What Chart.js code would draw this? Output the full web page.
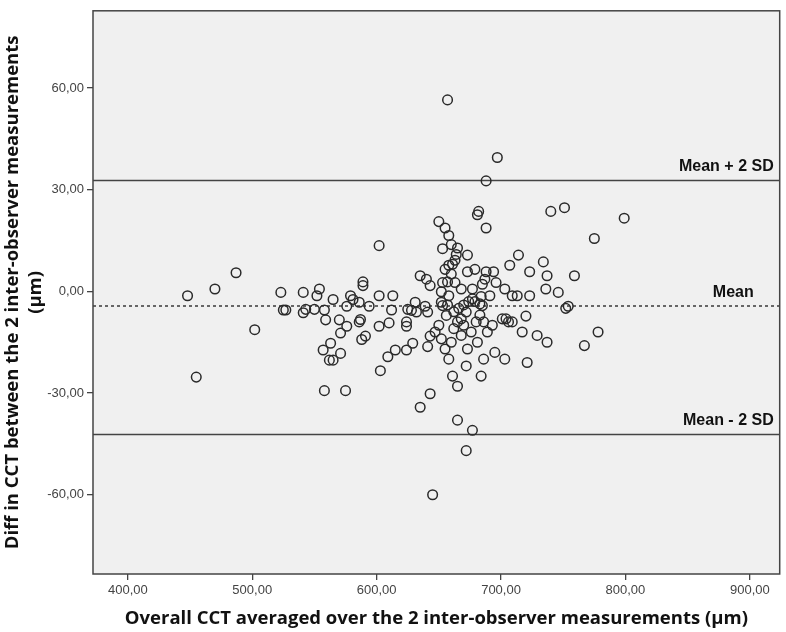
<!DOCTYPE html>
<html lang="en">
<head>
  <meta charset="UTF-8" />
  <title>Bland-Altman CCT</title>
  <style>
    * {
      box-sizing: border-box;
      margin: 0;
      padding: 0;
    }

    body {
      background-color: #fff;
      width: 786px;
      height: 632px;
      overflow: hidden;
    }
  </style>
</head>
<body>
  <canvas id="baChart" width="786" height="632"></canvas>

  <script src="https://cdn.jsdelivr.net/npm/chart.js"></script>
  <script>
    // averaged CCT of the two observers (x) and their difference (y)
    const avgCct = [
      448, 470, 487, 502, 455, 523, 525, 527, 541, 541, 543, 550, 552, 554, 558, 559,
      565, 563, 557, 562, 565, 571, 570, 571, 576, 576, 579, 581, 586, 589, 589, 594,
      586, 587, 588, 591, 558, 575, 602, 602, 613, 612, 602, 610, 615, 609, 603, 624,
      624, 624, 629, 635, 641, 643, 643, 631, 625, 628, 632, 641, 639, 635, 640, 643,
      688, 682, 681, 688, 740, 751, 799, 775, 650, 655, 658, 660, 665, 653, 673, 664,
      663, 661, 658, 714, 707, 734, 723, 737, 759, 655, 660, 673, 679, 688, 694, 687,
      685, 696, 653, 657, 663, 668, 677, 658, 652, 677, 679, 683, 685, 684, 691, 703,
      709, 713, 723, 736, 746, 754, 653, 652, 656, 668, 672, 701, 704, 720,
      657, 697,
      645, 672, 677, 665, 661, 665, 672, 684, 686, 703, 721, 695, 737, 729, 717, 778,
      767, 752, 706, 709, 693, 686, 683, 689, 681, 662, 665, 668, 670, 673, 676, 680,
      650, 652, 655, 647, 660, 658, 657, 666, 670, 674, 662
    ];
    const diffCct = [
      -1.3, 0.7, 5.5, -11.3, -25.3, -0.3, -5.5, -5.5, -0.3, -6.3, -5.3, -5.3, -1.3, 0.7, -5.5, -8.4,
      -2.4, -15.3, -17.3, -20.3, -20.3, -18.3, -8.4, -12.3, -10.3, -4.4, -1.3, -2.4, -3.2, 2.8, 1.7, -4.4,
      -9, -8.3, -14.2, -13.2, -29.3, -29.3, 13.5, -1.3, -1.3, -5.5, -10.3, -9.3, -17.3, -19.3, -23.4, -9,
      -10.3, -17.3, -15.3, -34.2, -16.3, -30.2, -13.2, -3.2, -5.3, -5.6, -6.1, -6.1, -4.4, 4.6, 3.6, 1.7,
      32.6, 23.6, 22.6, 18.7, 23.6, 24.7, 21.6, 15.6, 20.6, 18.7, 16.5, 13.8, 12.8, 12.6, 10.7, 10.9,
      9.2, 8, 7.7, 10.7, 7.7, 8.7, 5.8, 4.6, 4.6, 6.5, 5.1, 5.8, 6.5, 5.8, 5.8, 3.6,
      2.1, 2.6, 2.6, 2.8, 2.6, 0.7, 0.7, -1.3, -0.1, -2.2, -3, -3.7, -4.2, -1.5, -1.3, 0.7,
      -1.3, -1.3, -1.3, 0.7, -0.3, -4.4, -4.2, -3.2, -7.1, -8.1, -6.1, -8.1, -8.1, -7.3,
      56.5, 39.5,
      -60, -47, -41, -38, -25, -28, -22, -25, -20, -20, -21, -18, -15, -13, -12, -12,
      -16, -5, -9, -9, -10, -9, -7, -12, -15, -11, -9, -13, -10, -17, -12, -9,
      -10, -14, -17, -12, -15, -20, -4, -5, -4, -3, -6
    ];

    // reference lines: mean difference and limits of agreement
    const meanDiff = -4.6;
    const upperLimit = 32.8;
    const lowerLimit = -42.0;

    const xTicks = [400, 500, 600, 700, 800, 900];
    const yTicks = [-60, -30, 0, 30, 60];

    const points = avgCct.map((x, i) => ({ x: x, y: diffCct[i] }));

    function commaFmt(v) {
      return v.toFixed(2).replace('.', ',');
    }

    const plotFrame = {
      id: 'plotFrame',
      beforeDatasetsDraw(chart) {
        const { ctx, chartArea: a, scales } = chart;
        ctx.save();
        ctx.fillStyle = '#f0f0f0';
        ctx.fillRect(a.left, a.top, a.right - a.left, a.bottom - a.top);

        // limit lines
        ctx.strokeStyle = '#444';
        ctx.lineWidth = 1.3;
        [upperLimit, lowerLimit].forEach(v => {
          const y = Math.round(scales.y.getPixelForValue(v)) + 0.5;
          ctx.beginPath();
          ctx.moveTo(a.left, y);
          ctx.lineTo(a.right, y);
          ctx.stroke();
        });

        // mean line, dotted
        ctx.strokeStyle = '#666';
        ctx.lineWidth = 2;
        ctx.setLineDash([3, 3]);
        const ym = Math.round(scales.y.getPixelForValue(meanDiff)) - 1;
        ctx.beginPath();
        ctx.moveTo(a.left, ym);
        ctx.lineTo(a.right, ym);
        ctx.stroke();
        ctx.setLineDash([]);

        // labels
        ctx.fillStyle = '#111';
        ctx.font = 'bold 16px "Liberation Sans", Arial, sans-serif';
        ctx.textAlign = 'right';
        ctx.textBaseline = 'alphabetic';
        ctx.fillText('Mean + 2 SD', a.right - 6, scales.y.getPixelForValue(upperLimit) - 9);
        ctx.fillText('Mean', a.right - 26, ym - 9);
        ctx.fillText('Mean - 2 SD', a.right - 6, scales.y.getPixelForValue(lowerLimit) - 9);
        ctx.restore();
      },
      afterDraw(chart) {
        const { ctx, chartArea: a } = chart;
        ctx.save();
        ctx.strokeStyle = '#444';
        ctx.lineWidth = 1.5;
        ctx.strokeRect(a.left, a.top, a.right - a.left, a.bottom - a.top);
        ctx.restore();
      }
    };

    const baChart = new Chart(document.getElementById('baChart'), {
      type: 'scatter',
      data: {
        datasets: [{
          data: points,
          pointStyle: 'circle',
          pointRadius: 4.8,
          pointBorderWidth: 1.5,
          pointBorderColor: '#2a2a2a',
          pointBackgroundColor: 'rgba(0,0,0,0)'
        }]
      },
      options: {
        responsive: false,
        animation: false,
        layout: { padding: { top: 5, right: 5, left: 0, bottom: 0 } },
        plugins: {
          legend: { display: false },
          tooltip: { enabled: false }
        },
        scales: {
          x: {
            type: 'linear',
            min: 372,
            max: 924,
            afterBuildTicks: s => { s.ticks = xTicks.map(v => ({ value: v })); },
            afterFit: s => { s.height = 58; },
            grid: { drawOnChartArea: false, drawTicks: true, tickLength: 6, color: '#444', lineWidth: 1.3 },
            border: { display: false },
            ticks: {
              callback: v => commaFmt(v),
              color: '#444',
              padding: 3,
              maxRotation: 0,
              font: { family: '"Liberation Sans", Arial, sans-serif', size: 13 }
            },
            title: {
              display: true,
              text: 'Overall CCT averaged over the 2 inter-observer measurements (μm)',
              color: '#111',
              padding: { top: 4, bottom: 2 },
              font: { family: '"Open Sans", sans-serif', size: 18.5, weight: 'bold' }
            }
          },
          y: {
            type: 'linear',
            min: -83.4,
            max: 82.8,
            afterBuildTicks: s => { s.ticks = yTicks.map(v => ({ value: v })); },
            afterFit: s => { s.width = 93; },
            grid: { drawOnChartArea: false, drawTicks: true, tickLength: 6, color: '#444', lineWidth: 1.3 },
            border: { display: false },
            ticks: {
              callback: v => commaFmt(v),
              color: '#444',
              padding: 3,
              font: { family: '"Liberation Sans", Arial, sans-serif', size: 13 }
            },
            title: {
              display: true,
              text: ['Diff in CCT between the 2 inter-observer measurements', '(μm)'],
              color: '#111',
              padding: { top: 2, bottom: 0 },
              font: { family: '"Open Sans", sans-serif', size: 18.5, weight: 'bold', lineHeight: 1.2 }
            }
          }
        }
      },
      plugins: [plotFrame]
    });
  </script>
</body>
</html>
